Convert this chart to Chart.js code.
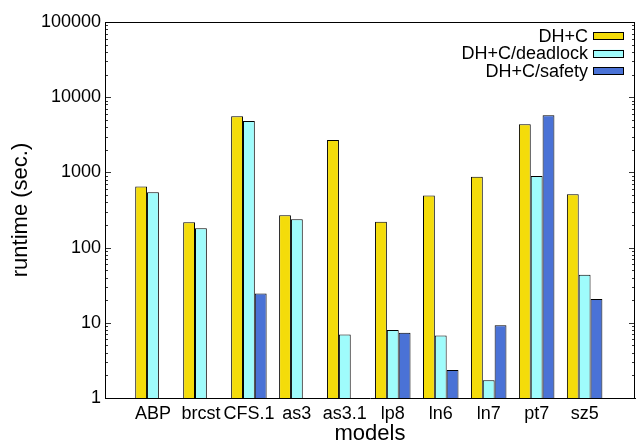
<!DOCTYPE html>
<html>
<head>
<meta charset="utf-8">
<script src="https://cdn.jsdelivr.net/npm/chart.js@4"></script>
<style>
  html, body { margin: 0; padding: 0; background: #fff; }
  #wrap { width: 640px; height: 444px; }
</style>
</head>
<body>
<div id="wrap"><canvas id="runtimeChart" width="640" height="444"></canvas></div>
<script>
// ---------- DATA ----------
const models = ["ABP", "brcst", "CFS.1", "as3", "as3.1", "lp8", "ln6", "ln7", "pt7", "sz5"];
const dhc = [650, 217, 5580, 270, 2700, 220, 493, 876, 4365, 514];
const dhcDeadlock = [546, 181, 4830, 238, 7.0, 8.0, 6.8, 1.72, 893, 43.7];
const dhcSafety = [null, null, 24.6, null, null, 7.4, 2.36, 9.3, 5750, 20.7];
const decadeTicks = [1, 10, 100, 1000, 10000, 100000];

const FONT = "'Liberation Sans', Arial, Helvetica, sans-serif";

function toPoints(values) {
  return values.map((v, i) => ({ x: i, y: v }));
}

// ---------- PLUGINS ----------
// closes the box (top + right) and draws gnuplot-style inward ticks on both sides
const frameTicks = {
  id: "frameTicks",
  afterDraw(chart) {
    const { ctx, chartArea: a, scales } = chart;
    const y = scales.y;
    ctx.save();
    ctx.strokeStyle = "#000";
    ctx.lineWidth = 1;
    ctx.beginPath();
    ctx.moveTo(a.left, a.top + 0.5);
    ctx.lineTo(a.right, a.top + 0.5);
    ctx.moveTo(a.right - 0.5, a.top);
    ctx.lineTo(a.right - 0.5, a.bottom);
    ctx.stroke();

    ctx.lineWidth = 0.8;
    ctx.beginPath();
    for (let d = 0; d < decadeTicks.length; d++) {
      const base = decadeTicks[d];
      for (let m = 1; m <= 9; m++) {
        const v = base * m;
        if (v > y.max) break;
        const py = Math.round(y.getPixelForValue(v)) + 0.5;
        const len = m === 1 ? 6 : 3;
        ctx.moveTo(a.left, py);
        ctx.lineTo(a.left + len, py);
        ctx.moveTo(a.right, py);
        ctx.lineTo(a.right - len, py);
      }
    }
    ctx.stroke();
    ctx.restore();
  },
};

// legend in the top right corner: label text first, swatch after it
const rightLegend = {
  id: "rightLegend",
  afterDraw(chart) {
    const { ctx } = chart;
    const boxRight = 624;
    const boxW = 31;
    const boxH = 7;
    ctx.save();
    ctx.font = "18px " + FONT;
    ctx.textAlign = "right";
    ctx.textBaseline = "middle";
    chart.data.datasets.forEach((ds, i) => {
      const cy = 35.7 + i * 17.6;
      ctx.fillStyle = "#000";
      ctx.fillText(ds.label, boxRight - boxW - 5, cy + 1);
      ctx.fillStyle = ds.backgroundColor;
      ctx.fillRect(boxRight - boxW, cy - boxH / 2, boxW, boxH);
      ctx.strokeStyle = "#000";
      ctx.lineWidth = 1;
      ctx.strokeRect(boxRight - boxW + 0.5, Math.round(cy - boxH / 2) + 0.5, boxW - 1, boxH);
    });
    ctx.restore();
  },
};

// ---------- CHART ----------
const ctx = document.getElementById("runtimeChart").getContext("2d");

const barStyle = {
  borderColor: "#000",
  borderWidth: 1,
  categoryPercentage: 0.74,
  barPercentage: 1,
};

new Chart(ctx, {
  type: "bar",
  data: {
    datasets: [
      { label: "DH+C", data: toPoints(dhc), backgroundColor: "#f4dc0a", ...barStyle },
      { label: "DH+C/deadlock", data: toPoints(dhcDeadlock), backgroundColor: "#9ffcfc", ...barStyle },
      { label: "DH+C/safety", data: toPoints(dhcSafety), backgroundColor: "#4a72d6", ...barStyle },
    ],
  },
  options: {
    responsive: false,
    animation: false,
    layout: { padding: { top: 22, right: 4, left: 8, bottom: 0 } },
    plugins: {
      legend: { display: false },
      tooltip: { enabled: false },
    },
    scales: {
      x: {
        type: "linear",
        offset: false,
        min: -1,
        max: 10.05,
        afterFit: (s) => { s.height = 46; },
        grid: { display: false, drawTicks: false, offset: false },
        border: { display: true, color: "#000", width: 1 },
        ticks: {
          stepSize: 1,
          autoSkip: false,
          maxRotation: 0,
          padding: 5,
          color: "#000",
          font: { family: FONT, size: 18 },
          callback: (value) =>
            Number.isInteger(value) && value >= 0 && value < models.length ? models[value] : "",
        },
        title: {
          display: true,
          text: "models",
          color: "#000",
          font: { family: FONT, size: 22 },
          padding: { top: 4, bottom: -3 },
        },
      },
      y: {
        type: "logarithmic",
        min: 1,
        max: 100000,
        afterFit: (s) => { s.width = 97; },
        grid: { display: false, drawTicks: false },
        border: { display: true, color: "#000", width: 1 },
        afterBuildTicks: (s) => {
          s.ticks = decadeTicks.map((v) => ({ value: v }));
        },
        ticks: {
          padding: 4,
          color: "#000",
          font: { family: FONT, size: 18 },
          callback: (value) => String(value),
        },
        title: {
          display: true,
          text: "runtime (sec.)",
          color: "#000",
          font: { family: FONT, size: 22 },
          padding: { top: 0, bottom: 0 },
        },
      },
    },
  },
  plugins: [frameTicks, rightLegend],
});
</script>
</body>
</html>
